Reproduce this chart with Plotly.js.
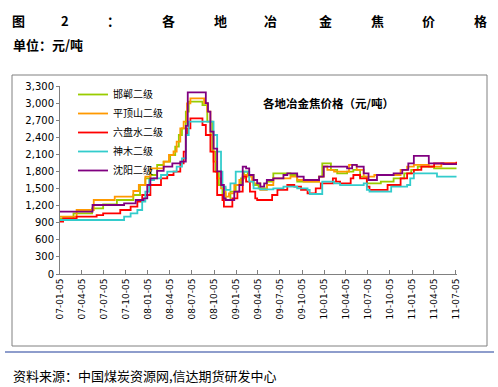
<!DOCTYPE html>
<html>
<head>
<meta charset="utf-8">
<script src="https://cdn.plot.ly/plotly-3.0.1.min.js"></script>
<style>html,body{margin:0;padding:0;background:#fff;}#chart{width:498px;height:387px;}</style>
</head>
<body>
<div id="chart"></div>
<script>
// 邯郸二级
const handanDates = ["2007-01-05","2007-03-02","2007-05-18","2007-07-03","2007-08-29","2007-11-05","2007-12-03","2007-12-25","2008-01-15","2008-02-12","2008-03-10","2008-04-06","2008-04-27","2008-05-12","2008-05-25","2008-06-10","2008-06-22","2008-07-28","2008-08-18","2008-09-07","2008-09-28","2008-10-12","2008-10-25","2008-11-09","2008-11-22","2008-12-12","2009-01-03","2009-01-25","2009-02-06","2009-02-22","2009-03-18","2009-04-08","2009-05-12","2009-06-08","2009-08-18","2009-09-15","2009-12-15","2009-12-28","2010-02-02","2010-02-28","2010-04-10","2010-05-06","2010-06-03","2010-07-01","2010-08-28","2010-10-20","2010-12-03","2011-01-01","2011-01-28","2011-04-06","2011-07-08"];
const handanValues = [977,1065,1152,1223,1299,1387,1562,1679,1738,1913,1972,2089,2235,2440,2557,2850,3024,3024,2966,2674,2147,1796,1562,1416,1299,1445,1562,1679,1796,1738,1562,1504,1621,1767,1738,1621,1709,1943,1826,1767,1796,1826,1709,1592,1621,1680,1767,1826,1884,1855,1855];

// 平顶山二级
const pingdingshanDates = ["2007-01-05","2007-03-15","2007-05-25","2007-08-20","2007-11-05","2007-11-28","2007-12-25","2008-01-15","2008-03-10","2008-04-01","2008-04-20","2008-05-03","2008-05-18","2008-06-01","2008-06-15","2008-06-29","2008-08-10","2008-08-25","2008-09-07","2008-09-20","2008-10-03","2008-10-18","2008-11-03","2008-11-22","2008-12-06","2008-12-28","2009-01-18","2009-02-01","2009-02-22","2009-03-12","2009-03-18","2009-04-15","2009-05-12","2009-06-08","2009-08-18","2009-09-15","2009-10-12","2009-12-15","2010-01-03","2010-01-18","2010-02-15","2010-04-18","2010-05-20","2010-06-18","2010-08-01","2010-11-18","2010-12-15","2011-01-12","2011-03-15","2011-05-06","2011-07-08"];
const pingdingshanValues = [1006,1123,1299,1357,1457,1562,1708,1855,1972,2089,2150,2323,2557,2674,2995,3083,3083,3000,2850,2440,1972,1679,1504,1357,1416,1562,1650,1738,1708,1620,1592,1475,1562,1680,1709,1650,1621,1709,1890,1826,1796,1914,1826,1709,1738,1826,1884,1914,1884,1943,1943];

// 六盘水二级
const liupanshuiDates = ["2007-01-05","2007-01-18","2007-03-15","2007-06-06","2007-07-03","2007-09-12","2007-10-25","2007-11-22","2007-12-12","2008-01-15","2008-02-28","2008-03-25","2008-04-20","2008-05-18","2008-06-01","2008-06-10","2008-06-15","2008-06-29","2008-08-10","2008-08-18","2008-09-01","2008-09-20","2008-10-03","2008-10-18","2008-11-09","2008-11-15","2008-12-20","2009-01-10","2009-02-01","2009-02-15","2009-03-03","2009-03-25","2009-04-02","2009-06-03","2009-06-25","2009-08-05","2009-09-03","2009-10-01","2009-10-28","2009-12-01","2009-12-22","2010-02-10","2010-02-23","2010-03-12","2010-04-25","2010-05-06","2010-06-03","2010-07-01","2010-07-12","2010-09-25","2010-11-18","2010-12-15","2011-01-12","2011-02-12","2011-04-06","2011-07-08"];
const liupanshuiValues = [919,977,1006,1035,1065,1123,1182,1270,1387,1562,1679,1738,1796,1943,2147,2440,2557,2732,2732,2615,2440,2147,1796,1387,1299,1182,1328,1445,1708,1620,1445,1328,1299,1387,1475,1562,1533,1475,1416,1504,1592,1680,1620,1592,1680,1738,1680,1533,1475,1562,1680,1767,1826,1884,1940,1970];

// 神木二级
const shenmuDates = ["2007-01-05","2007-09-28","2007-10-25","2007-11-22","2007-12-12","2007-12-25","2008-01-10","2008-01-30","2008-02-28","2008-03-25","2008-05-03","2008-05-25","2008-06-10","2008-06-22","2008-09-20","2008-10-03","2008-10-18","2008-11-03","2008-11-09","2008-11-22","2008-12-12","2009-01-03","2009-02-06","2009-02-28","2009-03-18","2009-04-15","2009-06-08","2009-07-20","2009-09-15","2009-10-28","2009-11-06","2009-12-28","2010-02-15","2010-03-12","2010-06-18","2010-07-01","2010-07-12","2010-10-10","2010-12-15","2010-12-28","2011-01-12","2011-04-06","2011-04-18","2011-07-08"];
const shenmuValues = [948,1006,1065,1123,1270,1445,1650,1679,1738,1796,1884,2030,2440,2674,2674,2440,2147,1796,1533,1475,1592,1796,1796,1620,1504,1487,1504,1533,1504,1475,1404,1621,1592,1560,1592,1475,1445,1533,1562,1680,1767,1767,1709,1709];

// 沈阳二级
const shenyangDates = ["2007-01-05","2007-05-20","2007-09-28","2007-11-15","2007-12-18","2008-01-02","2008-01-15","2008-02-12","2008-03-10","2008-04-15","2008-05-18","2008-06-10","2008-06-18","2008-08-25","2008-09-01","2008-09-10","2008-09-20","2008-10-03","2008-10-18","2008-11-03","2008-11-15","2008-11-22","2008-12-28","2009-01-18","2009-02-01","2009-02-15","2009-02-28","2009-03-18","2009-04-02","2009-04-15","2009-05-01","2009-05-12","2009-06-08","2009-07-20","2009-08-05","2009-09-15","2009-10-12","2009-12-15","2010-01-03","2010-04-10","2010-05-01","2010-05-20","2010-06-18","2010-07-08","2010-08-12","2010-10-20","2010-11-25","2010-12-20","2011-01-12","2011-02-25","2011-03-15","2011-05-15","2011-07-08"];
const shenyangValues = [1094,1211,1240,1299,1328,1562,1679,1810,1884,1942,1972,2600,3188,3188,3000,2850,2500,2200,1800,1562,1328,1299,1445,1562,1884,1855,1738,1650,1592,1533,1592,1650,1680,1738,1767,1709,1650,1709,1884,1855,1914,1884,1767,1650,1738,1767,1826,1943,2074,2074,1943,1930,1943];

const seriesNames = ["邯郸二级","平顶山二级","六盘水二级","神木二级","沈阳二级"];
const seriesColors = ["#99CC00","#FF9900","#FF0000","#33CCCC","#800080"];
const seriesDates = [handanDates,pingdingshanDates,liupanshuiDates,shenmuDates,shenyangDates];
const seriesValues = [handanValues,pingdingshanValues,liupanshuiValues,shenmuValues,shenyangValues];

const tickDates = ["2007-01-05","2007-04-05","2007-07-05","2007-10-05","2008-01-05","2008-04-05","2008-07-05","2008-10-05","2009-01-05","2009-04-05","2009-07-05","2009-10-05","2010-01-05","2010-04-05","2010-07-05","2010-10-05","2011-01-05","2011-04-05","2011-07-05"];
const tickLabels = ["07-01-05","07-04-05","07-07-05","07-10-05","08-01-05","08-04-05","08-07-05","08-10-05","09-01-05","09-04-05","09-07-05","09-10-05","10-01-05","10-04-05","10-07-05","10-10-05","11-01-05","11-04-05","11-07-05"];
const yTicks = [0,300,600,900,1200,1500,1800,2100,2400,2700,3000,3300];

const cjk = '"Noto Sans CJK SC", "DejaVu Sans", sans-serif';

const traces = seriesNames.map((n,i)=>({
  x: seriesDates[i], y: seriesValues[i], name: n, type:'scatter', mode:'lines',
  line:{color:seriesColors[i], width:1.8, shape:'hv'}
}));

const W=498,H=387;
const px=(x)=>x/W, py=(y)=>1-y/H;

const headChars = [["图",18],["2",65],["：",113],["各",168],["地",220],["冶",270],["金",325],["焦",377],["价",428],["格",480]];
const annotations = headChars.map(([t,x])=>({
  text:'<b>'+t+'</b>', xref:'paper', yref:'paper', x:px(x), y:py(21), xanchor:'center', yanchor:'middle',
  showarrow:false, font:{family:cjk, size:13, color:'#000'}
}));
annotations.push({text:'<b>单位：元/吨</b>', xref:'paper', yref:'paper', x:px(11), y:py(44), xanchor:'left', yanchor:'middle', showarrow:false, font:{family:cjk,size:13,color:'#000'}});
annotations.push({text:'<b>各地冶金焦价格（元/吨）</b>', xref:'paper', yref:'paper', x:px(261), y:py(103), xanchor:'left', yanchor:'middle', showarrow:false, font:{family:cjk,size:11.5,color:'#000'}});
annotations.push({text:'资料来源：中国煤炭资源网,信达期货研发中心', xref:'paper', yref:'paper', x:px(11), y:py(375), xanchor:'left', yanchor:'middle', showarrow:false, font:{family:cjk,size:13,color:'#000'}});

const layout = {
  width:W, height:H, margin:{l:0,r:0,t:0,b:0}, paper_bgcolor:'#fff', plot_bgcolor:'rgba(0,0,0,0)',
  showlegend:true,
  legend:{x:px(73), y:py(80), xanchor:'left', yanchor:'top', bgcolor:'rgba(0,0,0,0)', font:{family:cjk,size:10,color:'#000'}, tracegroupgap:0, itemwidth:30},
  xaxis:{type:'date', domain:[px(60),px(457)], range:['2007-01-05','2011-07-10'], tickvals:tickDates, ticktext:tickLabels, tickangle:-90,
    ticks:'inside', ticklen:4, tickcolor:'#808080', showline:true, linecolor:'#808080', linewidth:1, showgrid:false, zeroline:false,
    tickfont:{family:'"DejaVu Sans", sans-serif', size:9, color:'#000'}, fixedrange:true},
  yaxis:{domain:[py(274),py(86)], range:[0,3300], tickvals:yTicks, tickformat:',d', ticks:'outside', ticklen:3, tickcolor:'#808080',
    showline:true, linecolor:'#808080', linewidth:1, showgrid:false, zeroline:false,
    tickfont:{family:'"DejaVu Sans", sans-serif', size:10, color:'#000'}, fixedrange:true},
  shapes:[
    {type:'rect', xref:'paper', yref:'paper', x0:px(12), x1:px(487), y0:py(75), y1:py(346), line:{color:'#808080', width:1}},
    {type:'line', xref:'paper', yref:'paper', x0:px(5), x1:px(494), y0:py(352), y1:py(352), line:{color:'#1F3D99', width:1.2}}
  ],
  annotations:annotations
};
Plotly.newPlot('chart', traces, layout, {displayModeBar:false, staticPlot:true});
</script>
</body>
</html>
